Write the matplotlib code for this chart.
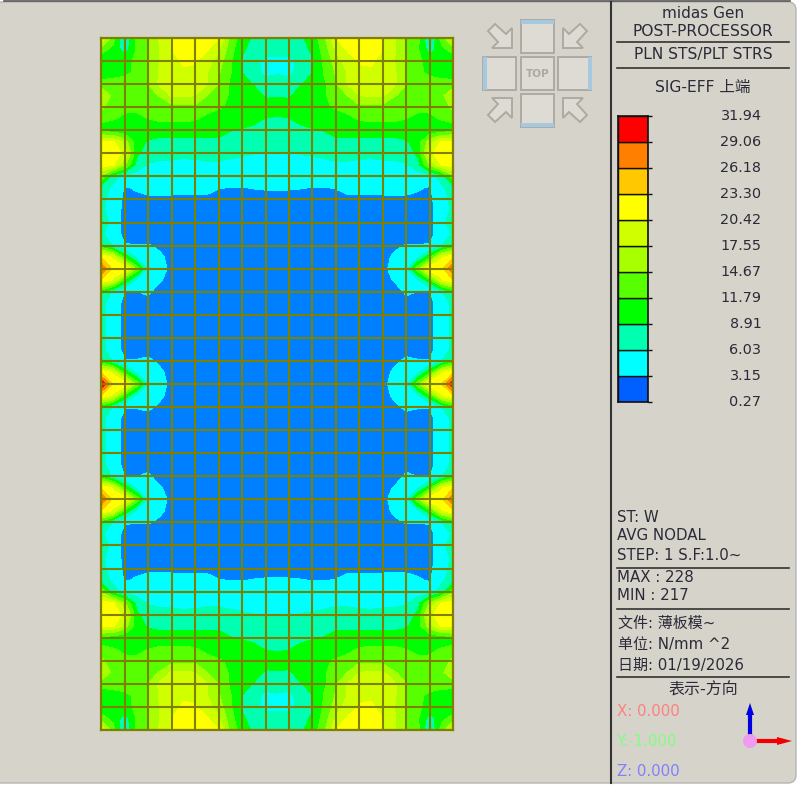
import numpy as np
import matplotlib
matplotlib.use("Agg")
import matplotlib.pyplot as plt
from matplotlib.patches import Rectangle, Polygon, FancyBboxPatch, Circle

plt.rcParams['font.family'] = ['DejaVu Sans', 'Noto Sans CJK SC']

LEVELS = [0.27, 3.15, 6.03, 8.91, 11.79, 14.67, 17.55, 20.42, 23.30, 26.18, 29.06, 31.94]
LEVEL_LABELS = ['0.27', '3.15', '6.03', '8.91', '11.79', '14.67', '17.55', '20.42', '23.30', '26.18', '29.06', '31.94']
MAP_COLORS = ['#0080ff', '#00ffff', '#00ffb0', '#00ff00', '#58ff00', '#a8ff00', '#d0ff00',
              '#ffff00', '#ffc800', '#ff8000', '#ff0000']
BAR_COLORS = ['#0060ff'] + MAP_COLORS[1:]

N_COLS = 15
N_ROWS = 30

# Stress read at half-cell nodes, upper-left quarter of the plate (top edge to mid-height, left edge to centre)
STRESS_QUARTER = [
    [20, 13, 5.5, 12.5, 14.7, 17.9, 20.6, 22.5, 23, 22, 20.5, 14, 10, 8.5, 8, 8],
    [13, 11, 7.5, 12, 14.7, 17.7, 20.5, 21.5, 21.5, 20.8, 18, 13, 9.5, 7.5, 7, 7],
    [9.5, 9.5, 10.5, 12.5, 14.5, 17.6, 19.5, 20.8, 20.6, 19, 16, 12.3, 8.5, 6.5, 5.5, 5.3],
    [10, 10, 11, 12.5, 14.6, 18, 18.8, 20, 20, 17.8, 15, 12, 8.9, 7, 5.5, 5.7],
    [13, 13.5, 13.5, 13.8, 14.7, 18.2, 18.8, 19, 18.7, 17.8, 14.5, 11.3, 10, 8.7, 7, 7.5],
    [18, 13.8, 13.3, 13.5, 14, 14.8, 17.9, 18, 17.5, 14.7, 13, 11.5, 11, 10.3, 8.5, 8.7],
    [15.5, 12.8, 12.3, 12.2, 12.5, 13, 13.5, 13.8, 14, 12.5, 12, 11.5, 11, 11.4, 10.2, 10.5],
    [12.5, 12, 11.3, 11.3, 11.8, 12.2, 12.2, 12.2, 12, 11.3, 10.8, 10.8, 10, 9.5, 8.8, 8.5],
    [10.5, 10, 9.8, 10, 10.5, 10.5, 10.7, 10.7, 10.5, 10, 9.9, 9, 8.7, 8.4, 8, 8],
    [20.8, 21, 16, 10.5, 8.5, 8, 7.8, 7.8, 8, 8.3, 8.3, 7.9, 7.5, 7.3, 7, 7],
    [21.5, 21.5, 20, 9.5, 7.5, 7, 6.7, 6.5, 6.5, 7, 7, 6.6, 6.3, 6.1, 5.9, 5.8],
    [22, 20.6, 15, 8, 5.8, 5.5, 5.5, 5.5, 5.6, 5.6, 5.6, 5.4, 5.3, 5.2, 5, 5],
    [14, 7, 5, 4.5, 4.5, 4.5, 4.8, 5, 5, 5, 5, 4.9, 4.8, 4.6, 4.3, 4.2],
    [7.5, 5.5, 2.9, 3.4, 3.9, 3.9, 3.7, 3.6, 3.6, 3.6, 3.2, 3.1, 3.1, 3.2, 3.3, 3.3],
    [7, 4.5, 2.7, 2.6, 2.7, 2.8, 2.8, 2.8, 2.8, 2.8, 2.7, 2.7, 2.6, 2.6, 2.5, 2.5],
    [7, 4.2, 2.6, 2.4, 2.4, 2.4, 2.4, 2.4, 2.4, 2.4, 2.4, 2.4, 2.4, 2.4, 2.4, 2.4],
    [9.5, 4.2, 2.6, 2.4, 2.4, 2.4, 2.4, 2.4, 2.4, 2.4, 2.4, 2.4, 2.4, 2.4, 2.4, 2.4],
    [6.5, 4.2, 2.6, 2.4, 2.4, 2.4, 2.4, 2.4, 2.4, 2.4, 2.4, 2.4, 2.4, 2.4, 2.4, 2.4],
    [9.5, 5.8, 3.25, 3.25, 3.25, 2.9, 2.4, 2.4, 2.4, 2.4, 2.4, 2.4, 2.4, 2.4, 2.4, 2.4],
    [23, 19.9, 11, 5.5, 5, 3.4, 2.7, 2.4, 2.4, 2.4, 2.4, 2.4, 2.4, 2.4, 2.4, 2.4],
    [29, 22.5, 23, 14, 5.3, 3.8, 2.7, 2.4, 2.4, 2.4, 2.4, 2.4, 2.4, 2.4, 2.4, 2.4],
    [23, 19.9, 11, 5.5, 4.8, 3.3, 2.6, 2.4, 2.4, 2.4, 2.4, 2.4, 2.4, 2.4, 2.4, 2.4],
    [9.5, 5.5, 3.1, 3.1, 3.4, 2.5, 2.4, 2.4, 2.4, 2.4, 2.4, 2.4, 2.4, 2.4, 2.4, 2.4],
    [7, 4.2, 2.6, 2.5, 2.7, 2.4, 2.4, 2.4, 2.4, 2.4, 2.4, 2.4, 2.4, 2.4, 2.4, 2.4],
    [7, 4.2, 2.6, 2.5, 2.4, 2.4, 2.4, 2.4, 2.4, 2.4, 2.4, 2.4, 2.4, 2.4, 2.4, 2.4],
    [7, 4.2, 2.6, 2.5, 2.4, 2.4, 2.4, 2.4, 2.4, 2.4, 2.4, 2.4, 2.4, 2.4, 2.4, 2.4],
    [7, 4.2, 2.6, 2.5, 2.4, 2.4, 2.4, 2.4, 2.4, 2.4, 2.4, 2.4, 2.4, 2.4, 2.4, 2.4],
    [7, 4.2, 2.6, 2.5, 2.7, 2.4, 2.4, 2.4, 2.4, 2.4, 2.4, 2.4, 2.4, 2.4, 2.4, 2.4],
    [9.5, 5.8, 3.25, 3.25, 3.4, 2.9, 2.4, 2.4, 2.4, 2.4, 2.4, 2.4, 2.4, 2.4, 2.4, 2.4],
    [23, 19.9, 11, 5.5, 5, 3.4, 2.7, 2.4, 2.4, 2.4, 2.4, 2.4, 2.4, 2.4, 2.4, 2.4],
    [32.5, 23, 23, 14, 5.3, 3.8, 2.7, 2.4, 2.4, 2.4, 2.4, 2.4, 2.4, 2.4, 2.4, 2.4],
]

W, H = 802, 785
BG = '#d6d3cb'
INK = '#2b2b38'
GRID = '#808000'


def place(x0, y0, x1, y1):
    """Axes rectangle from pixel corners (origin top-left)."""
    return [x0 / W, 1 - y1 / H, (x1 - x0) / W, (y1 - y0) / H]


fig = plt.figure(figsize=(W / 100, H / 100), dpi=100, facecolor='white')

# Window and overlay in pixel space
over = fig.add_axes([0, 0, 1, 1], zorder=0)
over.set_xlim(0, W)
over.set_ylim(H, 0)
over.axis('off')
over.add_patch(FancyBboxPatch((-4, 7), 795, 771, boxstyle='round,pad=5,rounding_size=8',
                              fc=BG, ec='#b5b5b5', lw=1.0))
over.plot([4, 790], [1, 1], color='#555555', lw=1.2)

# Contour plate
quarter = np.array(STRESS_QUARTER, dtype=float)
half = np.hstack([quarter, quarter[:, -2::-1]])
field = np.vstack([half, half[-2::-1, :]])
xs = np.linspace(0, N_COLS, field.shape[1])
ys = np.linspace(0, N_ROWS, field.shape[0])

ax = fig.add_axes(place(101.3, 38, 453.3, 730), zorder=2)
ax.contourf(xs, ys, field, levels=LEVELS, colors=MAP_COLORS, extend='both')
ax.set_xlim(0, N_COLS)
ax.set_ylim(N_ROWS, 0)
ax.set_xticks(np.arange(0, N_COLS + 1))
ax.set_yticks(np.arange(0, N_ROWS + 1))
ax.tick_params(length=0, labelbottom=False, labelleft=False)
ax.grid(True, color=GRID, lw=1.5)
ax.set_axisbelow(False)
for s in ax.spines.values():
    s.set_color(GRID)
    s.set_linewidth(1.6)

# Legend bar
lax = fig.add_axes(place(618, 116, 648, 402), zorder=2)
lax.bar(0, np.diff(LEVELS), bottom=LEVELS[:-1], width=1, color=BAR_COLORS, edgecolor='#101010', lw=1.0)
lax.set_xlim(-0.5, 0.5)
lax.set_ylim(LEVELS[0], LEVELS[-1])
lax.set_xticks([])
lax.yaxis.tick_right()
lax.set_yticks(LEVELS)
lax.tick_params(axis='y', length=3, width=1, color='#101010', labelright=False)
for s in lax.spines.values():
    s.set_color('#101010')
    s.set_linewidth(1.2)
for v, t in zip(LEVELS, LEVEL_LABELS):
    lax.text(4.78, v, t, transform=lax.get_yaxis_transform(), ha='right', va='center',
             fontsize=10.4, color=INK)

# Panel rules
over.plot([610.5, 610.5], [2, 783], color='#333333', lw=1.5)
for y in (42, 68, 568, 609, 677):
    over.plot([617, 789], [y, y], color='#333333', lw=1.2)


def label(x, y, s, ha='left', color=INK, size=10.8):
    over.text(x, y, s, ha=ha, va='center', color=color, fontsize=size)


label(703, 14, 'midas Gen', 'center', size=11)
label(703, 31, 'POST-PROCESSOR', 'center', size=11.2)
label(703, 55, 'PLN STS/PLT STRS', 'center', size=11.2)
label(703, 87, 'SIG-EFF 上端', 'center', size=11.2)
label(617, 518, 'ST: W')
label(617, 536, 'AVG NODAL')
label(617, 555, 'STEP: 1 S.F:1.0~')
label(617, 578, 'MAX : 228')
label(617, 596, 'MIN : 217')
label(618, 623, '文件: 薄板模~')
label(618, 644, '单位: N/mm ^2')
label(618, 665, '日期: 01/19/2026')
label(703, 690, '表示-方向', 'center', size=11.5)
label(617, 711, 'X: 0.000', color='#ff8080')
label(617, 741, 'Y:-1.000', color='#80ff80')
label(617, 771, 'Z: 0.000', color='#8080ff')

# Orientation triad
over.plot([750, 750], [741, 712], color='#0000e0', lw=3, solid_capstyle='butt')
over.add_patch(Polygon([[750, 703], [746, 715], [754, 715]], fc='#0000e0', ec='none'))
over.plot([750, 782], [741, 741], color='#f00000', lw=3, solid_capstyle='butt')
over.add_patch(Polygon([[792, 741], [777, 737], [777, 745]], fc='#f00000', ec='none'))
over.add_patch(Circle((750, 741), 7, fc='#f09af0', ec='none', zorder=5))

# Navigation cube
BOX = '#acaaa3'
FILL = '#dedbd4'
for x0, y0 in [(521, 20), (483, 57), (521, 57), (558, 57), (521, 94)]:
    over.add_patch(Rectangle((x0, y0), 33, 33, fc=FILL, ec=BOX, lw=1.4))
for r in [(521, 20, 33, 4), (483, 57, 4, 33), (588, 57, 4, 33), (521, 123, 33, 4)]:
    over.add_patch(Rectangle((r[0], r[1]), r[2], r[3], fc='#a5c9de', ec='none', zorder=3))
over.text(537.5, 74, 'TOP', ha='center', va='center', fontsize=7.5, color='#aaa8a2', fontweight='bold')
ARROW = np.array([[0, 0], [0, -20], [-6, -14], [-17, -24], [-24, -17], [-14, -6], [-20, 0]])
for cx, cy, sx, sy in [(512, 48, 1, 1), (563, 48, -1, 1), (512, 98, 1, -1), (563, 98, -1, -1)]:
    over.add_patch(Polygon(ARROW * [sx, sy] + [cx, cy], closed=True, fc=FILL, ec=BOX, lw=1.4))

fig.savefig('out.png', dpi=100, facecolor='white')
